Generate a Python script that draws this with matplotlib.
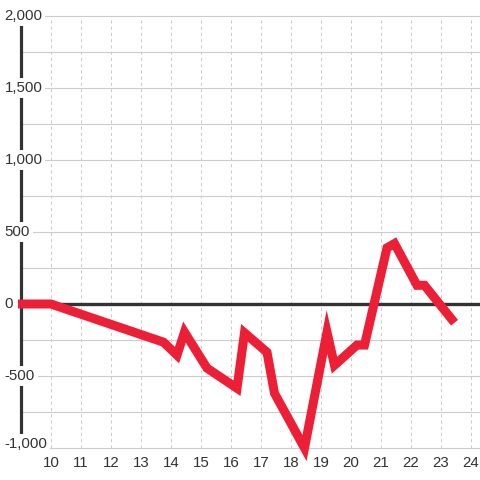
import matplotlib
matplotlib.use("Agg")
import matplotlib.pyplot as plt
import numpy as np

# series
hours = [8.9, 10, 13.75, 14.2, 14.45, 15.2, 16.2, 16.45, 17.2, 17.45, 18.45,
         19.2, 19.45, 20.2, 20.45, 21.2, 21.45, 22.2, 22.45, 23.45]
values = [0, 0, -265, -355, -195, -445, -585, -200, -335, -620, -1000,
          -195, -425, -285, -285, 390, 420, 130, 130, -130]

x_ticks = list(range(10, 25))
y_ticks = [2000, 1500, 1000, 500, 0, -500, -1000]
y_labels = ["2,000", "1,500", "1,000", "500", "0", "-500", "-1,000"]
y_grid = np.arange(-1000, 2001, 250)

plt.rcParams["font.family"] = ["Liberation Sans", "DejaVu Sans"]
fig = plt.figure(figsize=(4.8, 4.8), dpi=100)
ax = fig.add_axes([0, 0, 1, 1])
ax.axis("off")

grid_c = "#cccccc"
dark = "#333333"

# horizontal grid
for g in y_grid:
    ax.plot([9, 24.3], [g, g], color=grid_c, lw=0.8, zorder=1)
# vertical dotted grid
for t in x_ticks:
    ax.plot([t, t], [-1000, 2000], color=grid_c, lw=0.75,
            linestyle=(0, (3, 3)), zorder=1)

# left axis and zero line
ax.plot([9, 9], [-1000, 2000], color=dark, lw=2.3, solid_capstyle="butt", zorder=2)
ax.plot([9, 24.3], [0, 0], color=dark, lw=2.4, zorder=3)

# y labels with white background over the axis line
for v, lab in zip(y_ticks, y_labels):
    va = "baseline" if v == -1000 else "center"
    ax.text(8.45, v, lab, ha="left", va=va, fontsize=10.8, color=dark,
            zorder=4, bbox=dict(facecolor="white", edgecolor="none", pad=2))

# x labels
for t in x_ticks:
    ax.annotate(str(t), (t, -1000), xytext=(0, -8), textcoords="offset pixels",
                ha="center", va="top", fontsize=10.8, color=dark)

ax.plot(hours, values, color="#ed1f36", lw=6.5, solid_capstyle="butt",
        solid_joinstyle="miter", zorder=5)

ax.set_xlim(8.3, 24.3)
ax.set_ylim(-1222, 2111)

fig.savefig("out.png", dpi=100)
